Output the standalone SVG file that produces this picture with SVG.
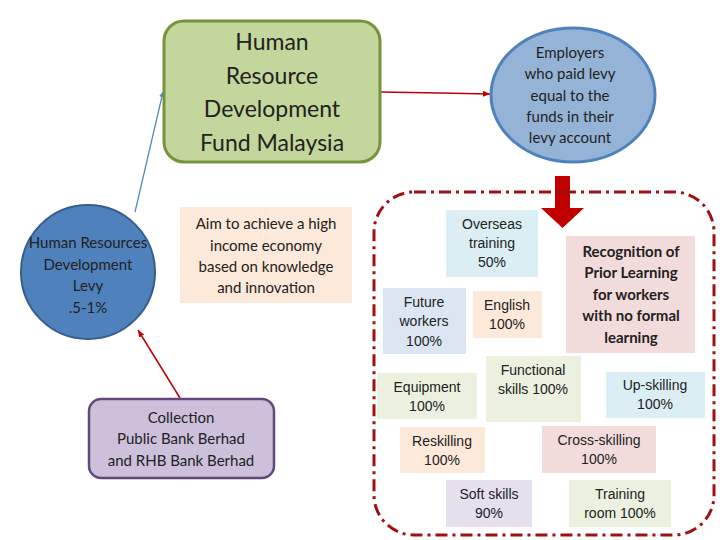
<svg xmlns="http://www.w3.org/2000/svg" width="720" height="540" viewBox="0 0 720 540">
<style>
text{font-family:"Liberation Sans",Arial,sans-serif;fill:#222;text-anchor:middle}
.c{font-family:Lato,"Open Sans",sans-serif}
.b{font-size:15px}
.t{font-size:14px}
</style>
<defs>
<marker id="ar" markerWidth="8" markerHeight="8" refX="7" refY="4" orient="auto" markerUnits="userSpaceOnUse"><path d="M0,1 L7,4 L0,7z" fill="#c00000"/></marker>
<marker id="ab" markerWidth="6" markerHeight="6" refX="5" refY="3" orient="auto" markerUnits="userSpaceOnUse"><path d="M0,0 L5,3 L0,6z" fill="#4f81bd"/></marker>
</defs>
<rect width="720" height="540" fill="#fff"/>
<g id="connectors" fill="none">
<path d="M380,92 L440,93 L490,94" stroke="#c00000" stroke-width="1.5" marker-end="url(#ar)"/>
<path d="M135,212 L163,92" stroke="#4f81bd" stroke-width="1.2" marker-end="url(#ab)"/>
<path d="M180,398 L138,330" stroke="#c00000" stroke-width="1.5" marker-end="url(#ar)"/>
<path d="M555,176 h15 v32 h14 l-21.5,20 l-21.5,-20 h14z" fill="#c00000"/>
<rect x="374" y="192" width="340" height="343" rx="40" stroke="#a01010" stroke-width="3" stroke-dasharray="12,5,3,5"/>
</g>
<g id="hrdf"><rect x="164" y="21" width="216" height="141" rx="20" fill="#c3d69b" stroke="#77933c" stroke-width="3"/>
<text class="c" font-size="23"><tspan x="272" y="50">Human</tspan><tspan x="272" y="84">Resource</tspan><tspan x="272" y="117">Development</tspan><tspan x="272" y="151">Fund Malaysia</tspan></text></g>
<g id="employers"><ellipse cx="573" cy="95" rx="82" ry="67" fill="#95b3d7" stroke="#4f81bd" stroke-width="3"/>
<text class="c" font-size="15"><tspan x="570" y="58">Employers</tspan><tspan x="570" y="79">who paid levy</tspan><tspan x="570" y="101">equal to the</tspan><tspan x="570" y="122">funds in their</tspan><tspan x="570" y="143">levy account</tspan></text></g>
<g id="levy"><circle cx="88" cy="272" r="67" fill="#4f81bd" stroke="#385d8a" stroke-width="2"/>
<text class="c" font-size="15"><tspan x="88" y="248">Human Resources</tspan><tspan x="88" y="270">Development</tspan><tspan x="88" y="291">Levy</tspan><tspan x="88" y="313">.5-1%</tspan></text></g>
<g id="aim"><rect x="180" y="207" width="172" height="96" fill="#fde9d9"/>
<text class="c" font-size="15"><tspan x="266" y="229">Aim to achieve a high</tspan><tspan x="266" y="251">income economy</tspan><tspan x="266" y="272">based on knowledge</tspan><tspan x="266" y="293">and innovation</tspan></text></g>
<g id="collection"><rect x="89" y="399" width="185" height="79" rx="12" fill="#ccc0da" stroke="#604a7b" stroke-width="2.5"/>
<text class="c" font-size="15"><tspan x="181" y="423">Collection</tspan><tspan x="181" y="444">Public Bank Berhad</tspan><tspan x="181" y="466">and RHB Bank Berhad</tspan></text></g>
<g id="overseas"><rect x="446" y="210" width="92" height="67" fill="#dbeef4"/><text class="t"><tspan x="492" y="229">Overseas</tspan><tspan x="492" y="248">training</tspan><tspan x="492" y="267">50%</tspan></text></g>
<g id="rpl"><rect x="566" y="236" width="129" height="117" fill="#f2dcdb"/><text class="c b" font-weight="bold"><tspan x="631" y="257">Recognition of</tspan><tspan x="631" y="278">Prior Learning</tspan><tspan x="631" y="300">for workers</tspan><tspan x="631" y="321">with no formal</tspan><tspan x="631" y="343">learning</tspan></text></g>
<g id="future"><rect x="383" y="288" width="83" height="66" fill="#dce6f2"/><text class="t"><tspan x="424" y="307">Future</tspan><tspan x="424" y="326">workers</tspan><tspan x="424" y="346">100%</tspan></text></g>
<g id="english"><rect x="473" y="291" width="69" height="47" fill="#fde9d9"/><text class="t"><tspan x="507" y="310">English</tspan><tspan x="507" y="329">100%</tspan></text></g>
<g id="functional"><rect x="486" y="356" width="95" height="66" fill="#ebf1de"/><text class="t"><tspan x="533" y="375">Functional</tspan><tspan x="533" y="394">skills 100%</tspan></text></g>
<g id="equipment"><rect x="377" y="373" width="100" height="46" fill="#ebf1de"/><text class="t"><tspan x="427" y="392">Equipment</tspan><tspan x="427" y="411">100%</tspan></text></g>
<g id="upskilling"><rect x="606" y="372" width="99" height="46" fill="#dbeef4"/><text class="t"><tspan x="655" y="390">Up-skilling</tspan><tspan x="655" y="409">100%</tspan></text></g>
<g id="reskilling"><rect x="400" y="427" width="85" height="46" fill="#fde9d9"/><text class="t"><tspan x="442" y="446">Reskilling</tspan><tspan x="442" y="465">100%</tspan></text></g>
<g id="cross"><rect x="542" y="426" width="114" height="47" fill="#f2dcdb"/><text class="t"><tspan x="599" y="445">Cross-skilling</tspan><tspan x="599" y="464">100%</tspan></text></g>
<g id="soft"><rect x="446" y="480" width="86" height="47" fill="#e5e0ec"/><text class="t"><tspan x="489" y="499">Soft skills</tspan><tspan x="489" y="518">90%</tspan></text></g>
<g id="training"><rect x="569" y="480" width="102" height="47" fill="#ebf1de"/><text class="t"><tspan x="620" y="499">Training</tspan><tspan x="620" y="518">room 100%</tspan></text></g>
</svg>
